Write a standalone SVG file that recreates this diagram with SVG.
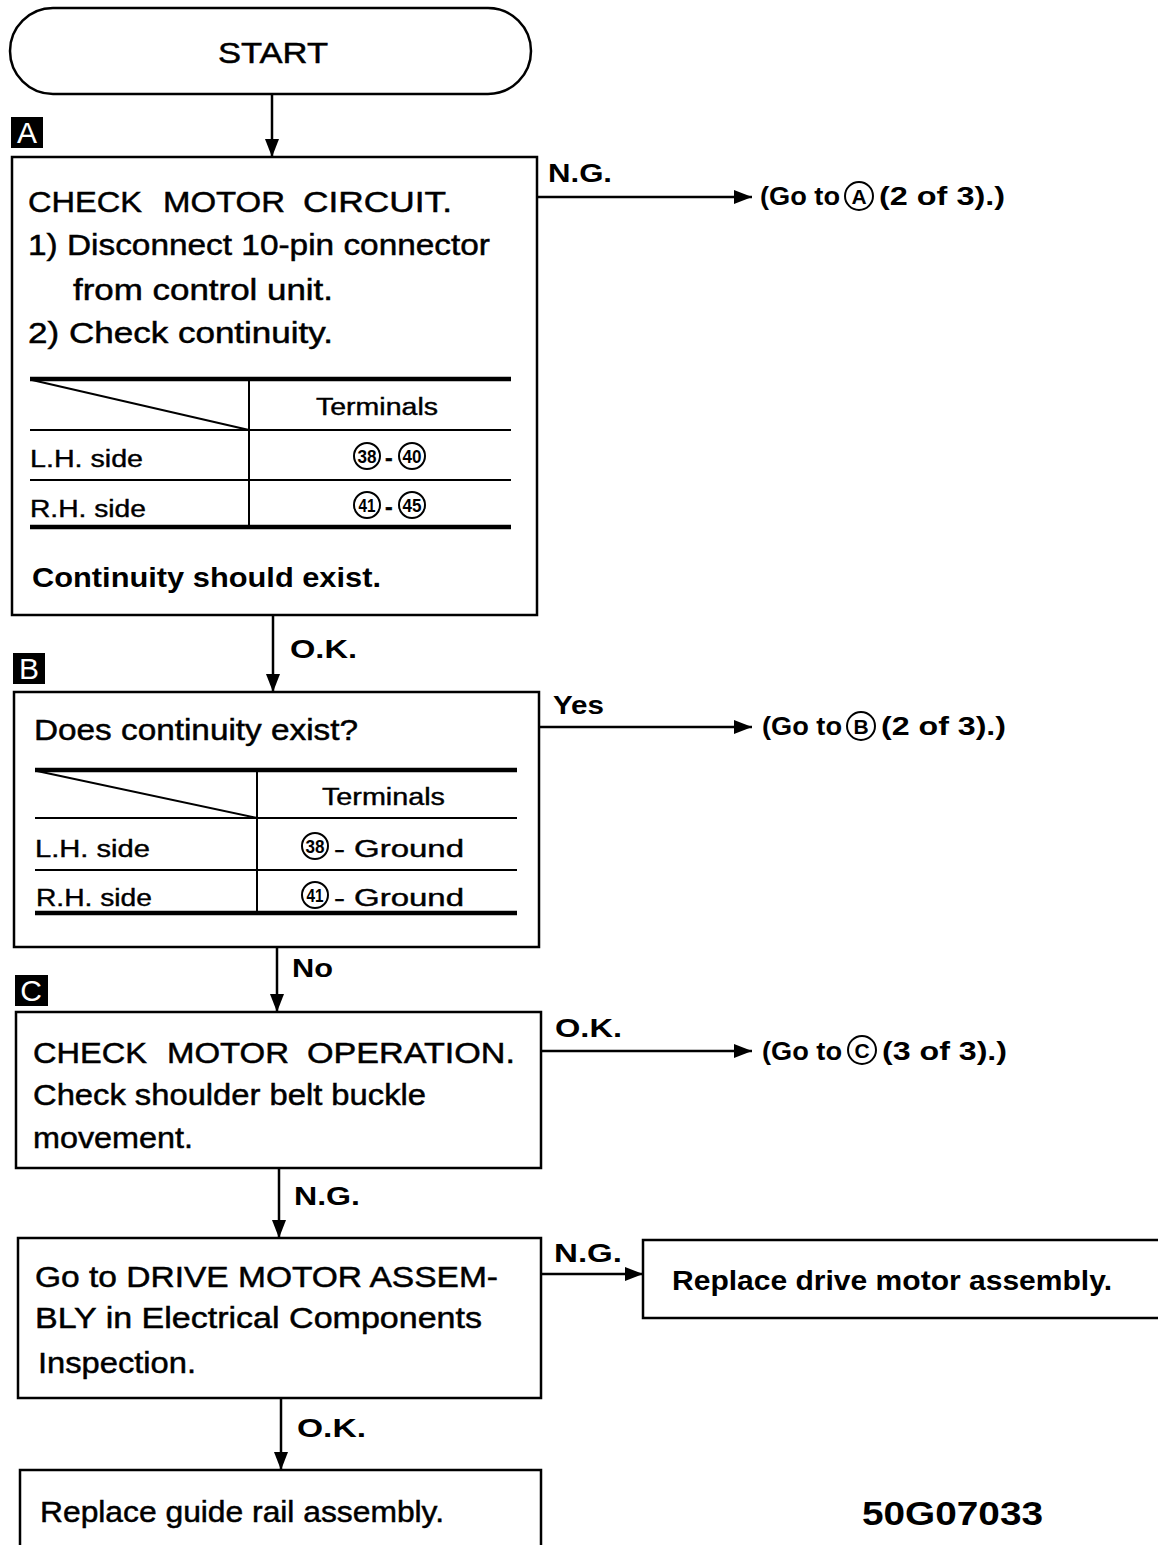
<svg xmlns="http://www.w3.org/2000/svg" width="1158" height="1545" viewBox="0 0 1158 1545">
<style>
text{font-family:"Liberation Sans",Arial,sans-serif;fill:#000}
.b{font-size:30px;stroke:#000;stroke-width:0.5}
.bb{font-size:27px;font-weight:bold}
.t{font-size:23px;stroke:#000;stroke-width:0.4}
.lbl{font-size:26px;font-weight:bold}
.go{font-size:25px;font-weight:bold}
.cn{font-size:18px;font-weight:bold;text-anchor:middle}
.ct{font-size:21px;font-weight:bold;text-anchor:middle}
.tag{font-size:30px;fill:#fff;text-anchor:middle}
.box{fill:#fff;stroke:#000;stroke-width:2.5}
.tl{stroke:#000;stroke-width:2;fill:none}
.tk{stroke:#000;stroke-width:4.5;fill:none}
.circ{fill:#fff;stroke:#000;stroke-width:2}
.con{stroke:#000;stroke-width:2.5;fill:none;marker-end:url(#ah)}
</style>
<defs>
<marker id="ah" viewBox="0 0 18 14" refX="18" refY="7" markerWidth="18" markerHeight="14" markerUnits="userSpaceOnUse" orient="auto">
<path d="M0,0 L18,7 L0,14 z" fill="#000"/>
</marker>
</defs>
<rect width="1158" height="1545" fill="#fff"/>

<g id="connectors">
<line class="con" x1="272" y1="94" x2="272" y2="157"/>
<line class="con" x1="273" y1="615" x2="273" y2="692"/>
<line class="con" x1="277" y1="947" x2="277" y2="1012"/>
<line class="con" x1="279" y1="1168" x2="279" y2="1238"/>
<line class="con" x1="281" y1="1398" x2="281" y2="1470"/>
<line class="con" x1="537" y1="197" x2="752" y2="197"/>
<line class="con" x1="539" y1="727" x2="752" y2="727"/>
<line class="con" x1="541" y1="1051" x2="752" y2="1051"/>
<line class="con" x1="541" y1="1274" x2="643" y2="1274"/>
<text class="lbl" x="548" y="182" textLength="64" lengthAdjust="spacingAndGlyphs">N.G.</text>
<text class="lbl" x="290" y="658" textLength="67" lengthAdjust="spacingAndGlyphs">O.K.</text>
<text class="lbl" x="553" y="714" textLength="51" lengthAdjust="spacingAndGlyphs">Yes</text>
<text class="lbl" x="292" y="977" textLength="41" lengthAdjust="spacingAndGlyphs">No</text>
<text class="lbl" x="555" y="1037" textLength="67" lengthAdjust="spacingAndGlyphs">O.K.</text>
<text class="lbl" x="294" y="1205" textLength="66" lengthAdjust="spacingAndGlyphs">N.G.</text>
<text class="lbl" x="554" y="1262" textLength="68" lengthAdjust="spacingAndGlyphs">N.G.</text>
<text class="lbl" x="297" y="1437" textLength="69" lengthAdjust="spacingAndGlyphs">O.K.</text>
</g>

<g id="start">
<rect class="box" x="10" y="8" width="521" height="86" rx="43" ry="43"/>
<text class="b" x="218" y="63" textLength="110" lengthAdjust="spacingAndGlyphs">START</text>
</g>

<g id="tagA">
<rect x="11" y="117" width="32" height="31" fill="#000"/>
<text class="tag" x="27" y="143">A</text>
</g>

<g id="boxA">
<rect class="box" x="12" y="157" width="525" height="458"/>
<text class="b" y="212"><tspan x="28" textLength="114" lengthAdjust="spacingAndGlyphs">CHECK</tspan><tspan x="163" textLength="122" lengthAdjust="spacingAndGlyphs">MOTOR</tspan><tspan x="303" textLength="149" lengthAdjust="spacingAndGlyphs">CIRCUIT.</tspan></text>
<text class="b" x="28" y="255" textLength="462" lengthAdjust="spacingAndGlyphs">1) Disconnect 10-pin connector</text>
<text class="b" x="73" y="300" textLength="260" lengthAdjust="spacingAndGlyphs">from control unit.</text>
<text class="b" x="28" y="343" textLength="305" lengthAdjust="spacingAndGlyphs">2) Check continuity.</text>
<line class="tk" x1="30" y1="379" x2="511" y2="379"/>
<line class="tl" x1="249" y1="379" x2="249" y2="527"/>
<line class="tl" x1="32" y1="380" x2="249" y2="430"/>
<line class="tl" x1="30" y1="430" x2="511" y2="430"/>
<line class="tl" x1="30" y1="480" x2="511" y2="480"/>
<line class="tk" x1="30" y1="527" x2="511" y2="527"/>
<text class="t" x="316" y="415" textLength="122" lengthAdjust="spacingAndGlyphs">Terminals</text>
<text class="t" x="30" y="467" textLength="113" lengthAdjust="spacingAndGlyphs">L.H. side</text>
<text class="t" x="30" y="517" textLength="116" lengthAdjust="spacingAndGlyphs">R.H. side</text>
<circle class="circ" cx="367" cy="456" r="13"/>
<text class="cn" x="367" y="463" textLength="19" lengthAdjust="spacingAndGlyphs">38</text>
<text class="t" x="385" y="466" font-weight="bold">-</text>
<circle class="circ" cx="412" cy="456" r="13"/>
<text class="cn" x="412" y="463" textLength="19" lengthAdjust="spacingAndGlyphs">40</text>
<circle class="circ" cx="367" cy="505" r="13"/>
<text class="cn" x="367" y="512" textLength="17" lengthAdjust="spacingAndGlyphs">41</text>
<text class="t" x="385" y="515" font-weight="bold">-</text>
<circle class="circ" cx="412" cy="505" r="13"/>
<text class="cn" x="412" y="512" textLength="19" lengthAdjust="spacingAndGlyphs">45</text>
<text class="bb" x="32" y="587" textLength="349" lengthAdjust="spacingAndGlyphs">Continuity should exist.</text>
</g>

<g id="gotoA">
<text class="go" x="760" y="205" textLength="80" lengthAdjust="spacingAndGlyphs">(Go to</text>
<circle class="circ" cx="859" cy="196" r="14"/>
<text class="ct" x="859" y="204">A</text>
<text class="go" x="879" y="205" textLength="126" lengthAdjust="spacingAndGlyphs">(2 of 3).)</text>
</g>

<g id="tagB">
<rect x="13" y="653" width="32" height="31" fill="#000"/>
<text class="tag" x="29" y="679">B</text>
</g>

<g id="boxB">
<rect class="box" x="14" y="692" width="525" height="255"/>
<text class="b" x="34" y="740" textLength="324" lengthAdjust="spacingAndGlyphs">Does continuity exist?</text>
<line class="tk" x1="35" y1="770" x2="517" y2="770"/>
<line class="tl" x1="257" y1="770" x2="257" y2="913"/>
<line class="tl" x1="37" y1="771" x2="257" y2="818"/>
<line class="tl" x1="35" y1="818" x2="517" y2="818"/>
<line class="tl" x1="35" y1="870" x2="517" y2="870"/>
<line class="tk" x1="35" y1="913" x2="517" y2="913"/>
<text class="t" x="322" y="805" textLength="123" lengthAdjust="spacingAndGlyphs">Terminals</text>
<text class="t" x="35" y="857" textLength="115" lengthAdjust="spacingAndGlyphs">L.H. side</text>
<text class="t" x="36" y="906" textLength="116" lengthAdjust="spacingAndGlyphs">R.H. side</text>
<circle class="circ" cx="315" cy="846" r="13"/>
<text class="cn" x="315" y="853" textLength="19" lengthAdjust="spacingAndGlyphs">38</text>
<text class="t" x="334" y="857" textLength="130" lengthAdjust="spacingAndGlyphs">- Ground</text>
<circle class="circ" cx="315" cy="895" r="13"/>
<text class="cn" x="315" y="902" textLength="17" lengthAdjust="spacingAndGlyphs">41</text>
<text class="t" x="334" y="906" textLength="130" lengthAdjust="spacingAndGlyphs">- Ground</text>
</g>

<g id="gotoB">
<text class="go" x="762" y="735" textLength="80" lengthAdjust="spacingAndGlyphs">(Go to</text>
<circle class="circ" cx="861" cy="726" r="14"/>
<text class="ct" x="861" y="734">B</text>
<text class="go" x="881" y="735" textLength="125" lengthAdjust="spacingAndGlyphs">(2 of 3).)</text>
</g>

<g id="tagC">
<rect x="15" y="975" width="33" height="31" fill="#000"/>
<text class="tag" x="31" y="1001">C</text>
</g>

<g id="boxC">
<rect class="box" x="16" y="1012" width="525" height="156"/>
<text class="b" y="1063"><tspan x="33" textLength="114" lengthAdjust="spacingAndGlyphs">CHECK</tspan><tspan x="167" textLength="122" lengthAdjust="spacingAndGlyphs">MOTOR</tspan><tspan x="307" textLength="208" lengthAdjust="spacingAndGlyphs">OPERATION.</tspan></text>
<text class="b" x="33" y="1105" textLength="393" lengthAdjust="spacingAndGlyphs">Check shoulder belt buckle</text>
<text class="b" x="33" y="1148" textLength="160" lengthAdjust="spacingAndGlyphs">movement.</text>
</g>

<g id="gotoC">
<text class="go" x="762" y="1060" textLength="80" lengthAdjust="spacingAndGlyphs">(Go to</text>
<circle class="circ" cx="862" cy="1050" r="14"/>
<text class="ct" x="862" y="1058">C</text>
<text class="go" x="882" y="1060" textLength="125" lengthAdjust="spacingAndGlyphs">(3 of 3).)</text>
</g>

<g id="boxD">
<rect class="box" x="18" y="1238" width="523" height="160"/>
<text class="b" x="35" y="1287" textLength="463" lengthAdjust="spacingAndGlyphs">Go to DRIVE MOTOR ASSEM-</text>
<text class="b" x="35" y="1328" textLength="447" lengthAdjust="spacingAndGlyphs">BLY in Electrical Components</text>
<text class="b" x="38" y="1373" textLength="158" lengthAdjust="spacingAndGlyphs">Inspection.</text>
</g>

<g id="boxE">
<rect class="box" x="643" y="1240" width="530" height="78"/>
<text class="bb" x="672" y="1290" textLength="440" lengthAdjust="spacingAndGlyphs">Replace drive motor assembly.</text>
</g>

<g id="boxF">
<rect class="box" x="20" y="1470" width="521" height="95"/>
<text class="b" x="40" y="1522" textLength="404" lengthAdjust="spacingAndGlyphs">Replace guide rail assembly.</text>
</g>

<g id="code">
<text x="862" y="1525" font-size="34" font-weight="bold" textLength="181" lengthAdjust="spacingAndGlyphs">50G07033</text>
</g>
</svg>
